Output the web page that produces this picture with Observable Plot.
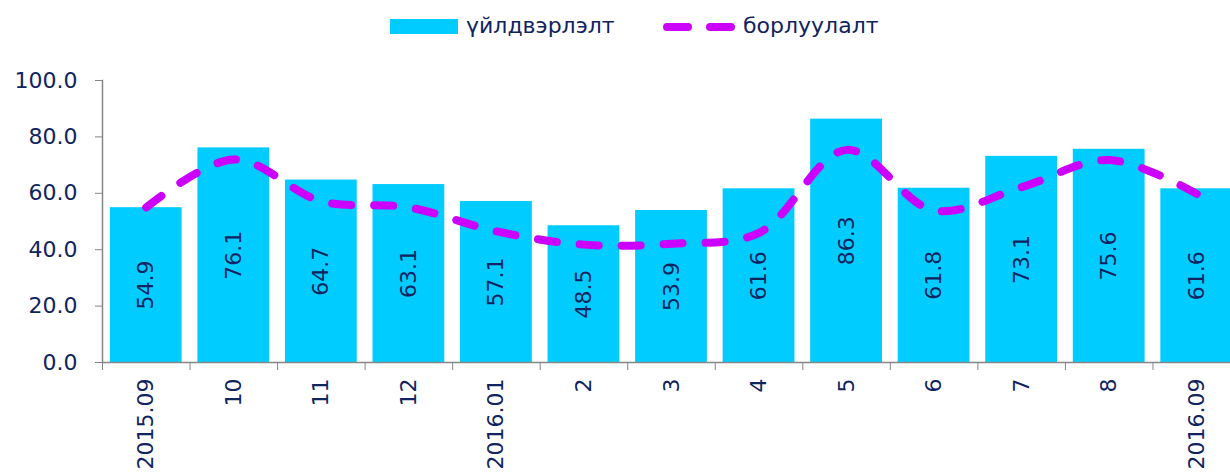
<!DOCTYPE html>
<html><head><meta charset="utf-8">
<script src="https://cdn.jsdelivr.net/npm/d3@7"></script>
<script src="https://cdn.jsdelivr.net/npm/@observablehq/plot@0.6"></script>
<style>
body{margin:0;background:#fff;overflow:hidden;width:1230px;height:475px;font-family:"DejaVu Sans",sans-serif;}
#legend{position:relative;height:50px;width:1230px;}
.lt{position:absolute;top:13px;font-size:22px;line-height:26px;color:#10245f;white-space:nowrap;}
#chart{width:1230px;overflow:hidden;}
#chart svg{max-width:none !important;}
</style></head><body>
<div id="legend"></div>
<div id="chart"></div>
<script>
const categories = ["2015.09","10","11","12","2016.01","2","3","4","5","6","7","8","2016.09"];
const production = [54.9,76.1,64.7,63.1,57.1,48.5,53.9,61.6,86.3,61.8,73.1,75.6,61.6];
const sales = [55.0,72.0,57.2,55.0,46.5,41.8,42.1,46.0,75.4,53.9,62.2,71.8,59.8];
const yTicks = [0,20,40,60,80,100];
const seriesNames = ["үйлдвэрлэлт","борлуулалт"];

const barColor = "#00CCFF", lineColor = "#CC00FF", textColor = "#10245f", axisColor = "#868686";

// legend
const lg = document.getElementById("legend");
lg.innerHTML = `
 <div style="position:absolute;left:390px;top:19px;width:68px;height:15px;background:${barColor}"></div>
 <div class="lt" style="left:466px">${seriesNames[0]}</div>
 <svg style="position:absolute;left:660px;top:19px" width="84" height="16"><line x1="7" y1="8" x2="75" y2="8" stroke="${lineColor}" stroke-width="8" stroke-linecap="round" stroke-dasharray="21 22"/></svg>
 <div class="lt" style="left:743px">${seriesNames[1]}</div>`;

const data = categories.map((c,i)=>({cat:c, prod:production[i], sales:sales[i]}));
const W = 1240, mL = 102, mR = 0;
const step = (W - mL - mR) / categories.length;

const chart = Plot.plot({
  width: W, height: 425,
  marginTop: 30, marginBottom: 113, marginLeft: mL, marginRight: mR,
  style: {fontFamily: "DejaVu Sans", fontSize: "22px", color: textColor, background: "white", overflow: "visible", maxWidth: "none"},
  x: {domain: categories, paddingInner: 0.18, paddingOuter: 0.09, round: false},
  y: {domain: [0, 100]},
  marks: [
    Plot.barY(data, {x: "cat", y: "prod", fill: barColor}),
    Plot.text(data, {x: "cat", y: d => d.prod / 2, text: d => d.prod.toFixed(1), rotate: -90, fill: textColor, fontSize: 22}),
    Plot.line(data, {x: "cat", y: "sales", stroke: lineColor, strokeWidth: 8, strokeDasharray: "19 23", strokeLinecap: "round", curve: "catmull-rom"}),
    Plot.frame({anchor: "left", stroke: axisColor, strokeWidth: 1.5}),
    Plot.ruleY([0], {stroke: axisColor, strokeWidth: 1.5}),
    Plot.axisY({ticks: yTicks, tickSize: 7, tickPadding: 18, tickFormat: d => d.toFixed(1), stroke: axisColor, fill: textColor, fontSize: 22, label: null}),
    Plot.axisX({tickSize: 8, dx: -step / 2, tickFormat: () => "", stroke: axisColor, label: null}),
    Plot.axisX({tickSize: 0, tickRotate: -90, tickPadding: 16, fill: textColor, fontSize: 22, label: null})
  ]
});
document.getElementById("chart").appendChild(chart);
</script>
</body></html>
